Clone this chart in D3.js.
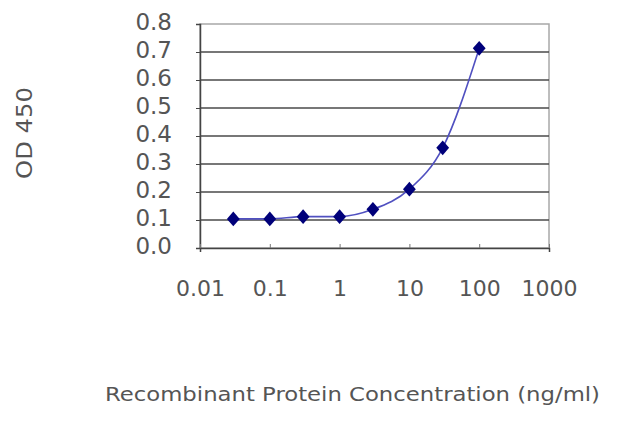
<!DOCTYPE html>
<html><head><meta charset="utf-8">
<script src="https://cdn.jsdelivr.net/npm/d3@7"></script>
<style>html,body{margin:0;padding:0;background:#fff;}svg{display:block;}</style>
</head><body>
<svg id="c" width="640" height="427"></svg>
<script>
const concentrations = [0.03, 0.1, 0.3, 1, 3, 10, 30, 100];
const od450 = [0.104, 0.104, 0.112, 0.112, 0.138, 0.21, 0.358, 0.713];
const xTickValues = [0.01, 0.1, 1, 10, 100, 1000];
const xTickLabels = ["0.01", "0.1", "1", "10", "100", "1000"];
const yTickValues = [0, 0.1, 0.2, 0.3, 0.4, 0.5, 0.6, 0.7, 0.8];
const yTickLabels = ["0.0", "0.1", "0.2", "0.3", "0.4", "0.5", "0.6", "0.7", "0.8"];
const xTitle = "Recombinant Protein Concentration (ng/ml)";
const yTitle = "OD 450";

const svg = d3.select("#c");
const L = 200, R = 549, T = 24, B = 248;
const x = d3.scaleLog().domain([0.01, 1000]).range([L, R]);
const y = d3.scaleLinear().domain([0, 0.8]).range([B, T]);
const font = "'DejaVu Sans', sans-serif";

// plot frame
svg.append("rect").attr("x", L).attr("y", T).attr("width", R - L).attr("height", B - T)
  .attr("fill", "#fff").attr("stroke", "#a8a8a8").attr("stroke-width", 1.5);

// gridlines
svg.append("g").selectAll("line").data(yTickValues.filter(v => v > 0 && v < 0.8)).join("line")
  .attr("x1", L).attr("x2", R).attr("y1", d => y(d)).attr("y2", d => y(d))
  .attr("stroke", "#4a4a4a").attr("stroke-width", 1.6);

// y axis
const yAxis = d3.axisLeft(y).tickValues(yTickValues).tickFormat((d, i) => yTickLabels[i]).tickSize(4).tickPadding(24);
const gy = svg.append("g").attr("transform", `translate(${L},0)`).call(yAxis);
gy.select(".domain").attr("stroke", "#444").attr("stroke-width", 1.5);
gy.selectAll(".tick line").attr("stroke", "#444");
gy.selectAll("text").attr("font-family", font).attr("font-size", 23).attr("fill", "#555")
  .attr("dy", "0.25em");

// x axis
const xAxis = d3.axisBottom(x).tickValues(xTickValues).tickFormat((d, i) => xTickLabels[i]).tickSize(4).tickPadding(28);
const gx = svg.append("g").attr("transform", `translate(0,${B})`).call(xAxis);
gx.select(".domain").attr("stroke", "#444").attr("stroke-width", 1.5);
gx.selectAll(".tick line").attr("stroke", "#777").attr("transform", "translate(0,-4)");
gx.selectAll("text").attr("font-family", font).attr("font-size", 22).attr("fill", "#555");

// line
const pts = concentrations.map((c, i) => [x(c), y(od450[i])]);
svg.append("path").attr("d", d3.line().curve(d3.curveMonotoneX)(pts))
  .attr("fill", "none").attr("stroke", "#5050c0").attr("stroke-width", 1.6);

// markers
svg.append("g").selectAll("path").data(pts).join("path")
  .attr("transform", d => `translate(${d[0]},${d[1]}) scale(1,1.15)`)
  .attr("d", d3.symbol().type(d3.symbolDiamond2).size(105))
  .attr("fill", "#00007a");

// titles
svg.append("text").attr("x", 105).attr("y", 401).attr("font-family", font).attr("font-size", 20)
  .attr("fill", "#555").attr("textLength", 495).attr("lengthAdjust", "spacingAndGlyphs").text(xTitle);
svg.append("text").attr("transform", "translate(32,133) rotate(-90)").attr("text-anchor", "middle")
  .attr("font-family", font).attr("font-size", 21).attr("fill", "#555")
  .attr("textLength", 92).attr("lengthAdjust", "spacingAndGlyphs").text(yTitle);
</script>
</body></html>
